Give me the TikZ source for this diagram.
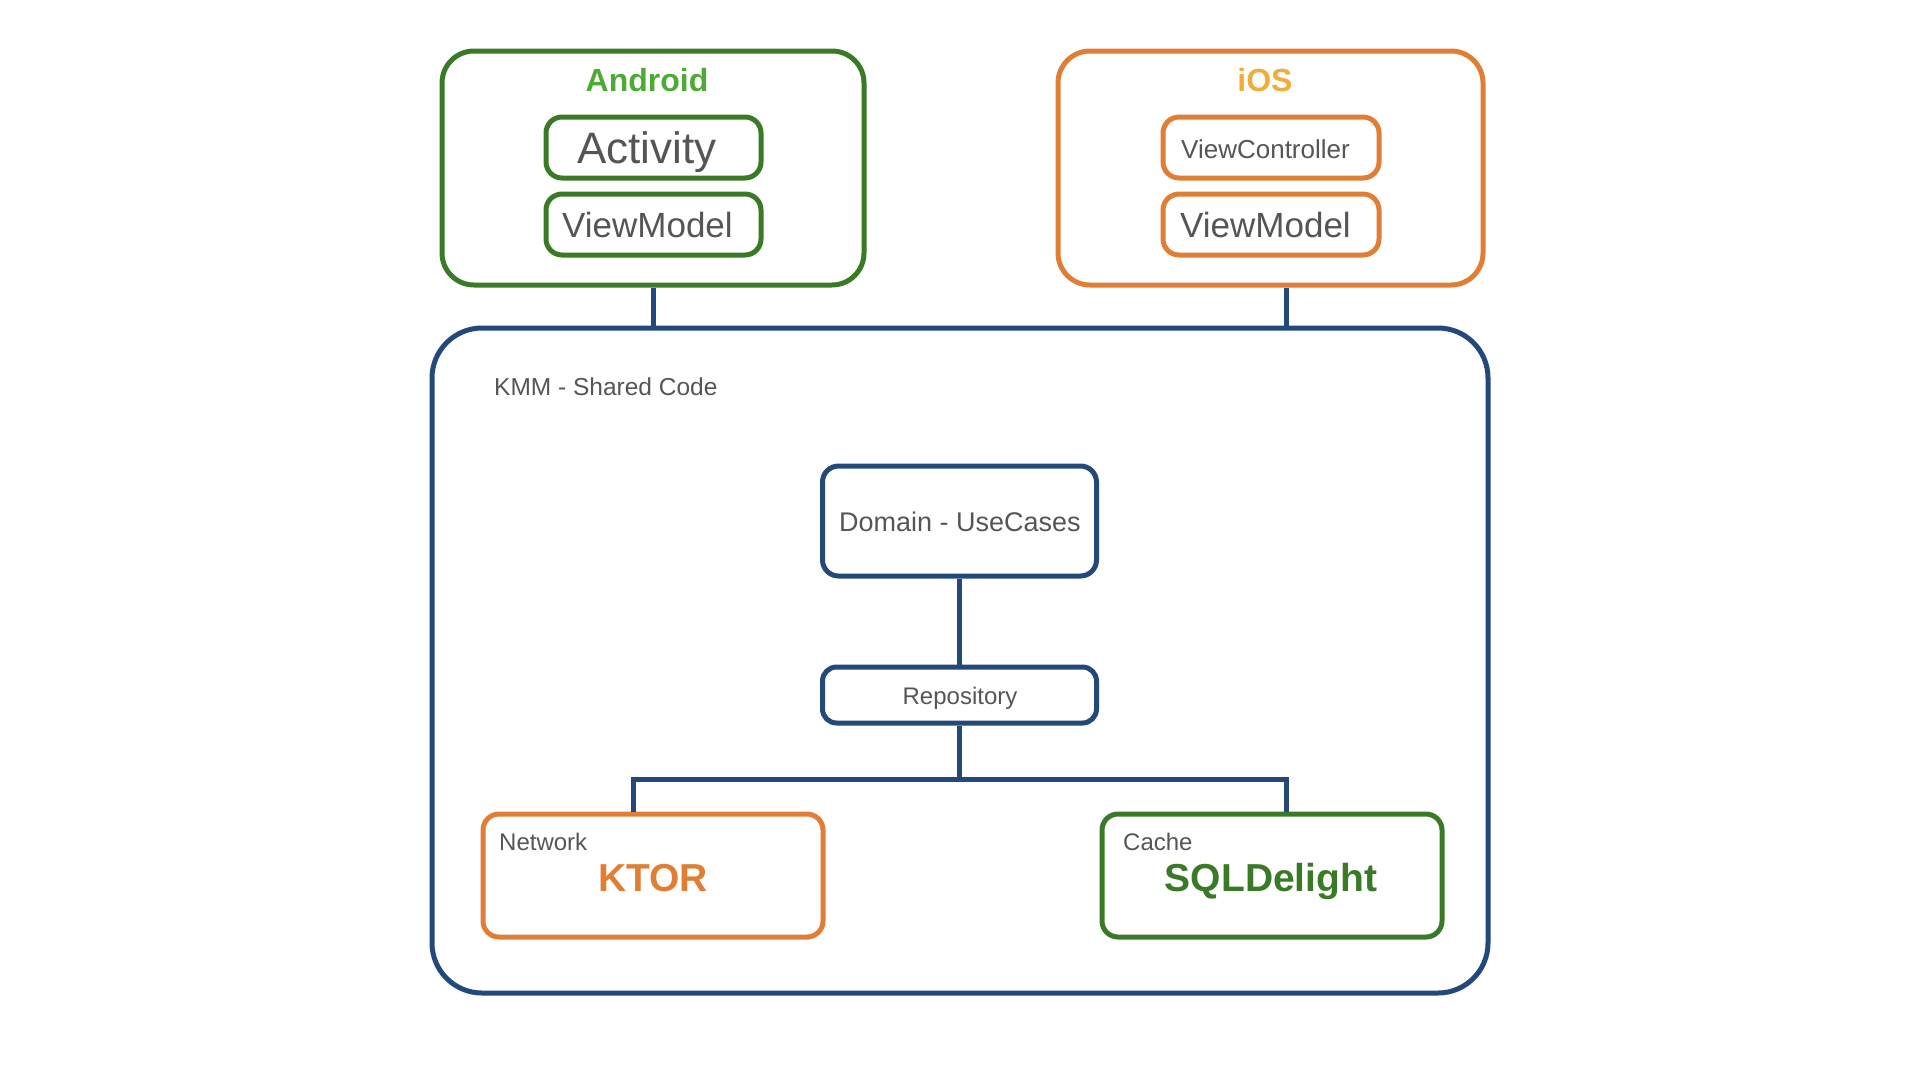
\documentclass[tikz,border=0pt]{standalone}
\usepackage{fontspec}
\setmainfont{Liberation Sans}
\definecolor{dgreen}{HTML}{3A7A27}
\definecolor{lgreen}{HTML}{4DAA35}
\definecolor{orng}{HTML}{E07E35}
\definecolor{gold}{HTML}{F0AD3A}
\definecolor{navy}{HTML}{23497A}
\definecolor{txtgrey}{HTML}{555555}
\newcommand{\fsz}[1]{\fontsize{#1}{#1}\selectfont}
\tikzset{
  box/.style={draw, line width=5pt, rounded corners=#1, inner sep=0pt, text=txtgrey},
  box/.default=16pt,
  lbl/.style={inner sep=0pt, text=txtgrey},
  link/.style={draw=navy, line width=5pt}
}
\begin{document}
\begin{tikzpicture}[x=1pt,y=-1pt]
\useasboundingbox (0,0) rectangle (1920,1080);
% Android
\node[box=32pt, draw=dgreen, minimum width=422pt, minimum height=234pt] (android) at (653,168) {};
\node[lbl, anchor=base, text=lgreen, font=\fsz{32}\bfseries] (androidt) at (647,91) {Android};
\node[box, draw=dgreen, minimum width=215pt, minimum height=61pt, font=\fsz{44}] (activity) at (653.5,147.5) {};
\node[lbl, anchor=base, font=\fsz{44}] (activityt) at (647,163) {Activity};
\node[box, draw=dgreen, minimum width=215pt, minimum height=61pt] (avm) at (653.5,224.5) {};
\node[lbl, anchor=base west, font=\fsz{35}] (avmt) at (562,237) {ViewModel};
% iOS
\node[box=32pt, draw=orng, minimum width=425pt, minimum height=234pt] (ios) at (1270.5,168) {};
\node[lbl, anchor=base, text=gold, font=\fsz{32}\bfseries] (iost) at (1265,91) {iOS};
\node[box, draw=orng, minimum width=216pt, minimum height=61pt] (vc) at (1271,147.5) {};
\node[lbl, anchor=base west, font=\fsz{26}] (vct) at (1181,158) {ViewController};
\node[box, draw=orng, minimum width=216pt, minimum height=61pt] (ivm) at (1271,224.5) {};
\node[lbl, anchor=base west, font=\fsz{35}] (ivmt) at (1180,237) {ViewModel};
% Shared
\node[box=50pt, draw=navy, minimum width=1056pt, minimum height=665pt] (shared) at (960,660.5) {};
\node[lbl, anchor=base west, font=\fsz{24.5}] (sharedt) at (494,395) {KMM - Shared Code};
\node[box, draw=navy, minimum width=274pt, minimum height=110pt, font=\fsz{27}] (domain) at (959.5,521) {};
\node[lbl, anchor=base, font=\fsz{27}] (domaint) at (960,531) {Domain - UseCases};
\node[box=14pt, draw=navy, minimum width=274pt, minimum height=56pt] (repo) at (959.5,695) {};
\node[lbl, anchor=base, font=\fsz{24}] (repot) at (960,704) {Repository};
\node[box, draw=orng, minimum width=340pt, minimum height=123pt] (ktor) at (653,875.5) {};
\node[lbl, anchor=base west, font=\fsz{24}] (ktorl) at (499,850) {Network};
\node[lbl, anchor=base, text=orng, font=\fsz{39}\bfseries] (ktort) at (653,891) {KTOR};
\node[box, draw=dgreen, minimum width=340pt, minimum height=123pt] (sql) at (1272,875.5) {};
\node[lbl, anchor=base west, font=\fsz{24}] (sqll) at (1123,850) {Cache};
\node[lbl, anchor=base, text=dgreen, font=\fsz{39}\bfseries] (sqlt) at (1271,891) {SQLDelight};
% connectors
\draw[link] (android.south) -- (android.south |- shared.north);
\draw[link] ([xshift=16pt]ios.south) -- ([xshift=16pt]ios.south |- shared.north);
\draw[link] (domain.south) -- (repo.north);
\coordinate (branch) at ([yshift=-54pt]repo.south);
\draw[link] (repo.south) -- (branch);
\draw[link] ([xshift=-20pt]ktor.north) |- (branch) -| ([xshift=14pt]sql.north);
\end{tikzpicture}
\end{document}
